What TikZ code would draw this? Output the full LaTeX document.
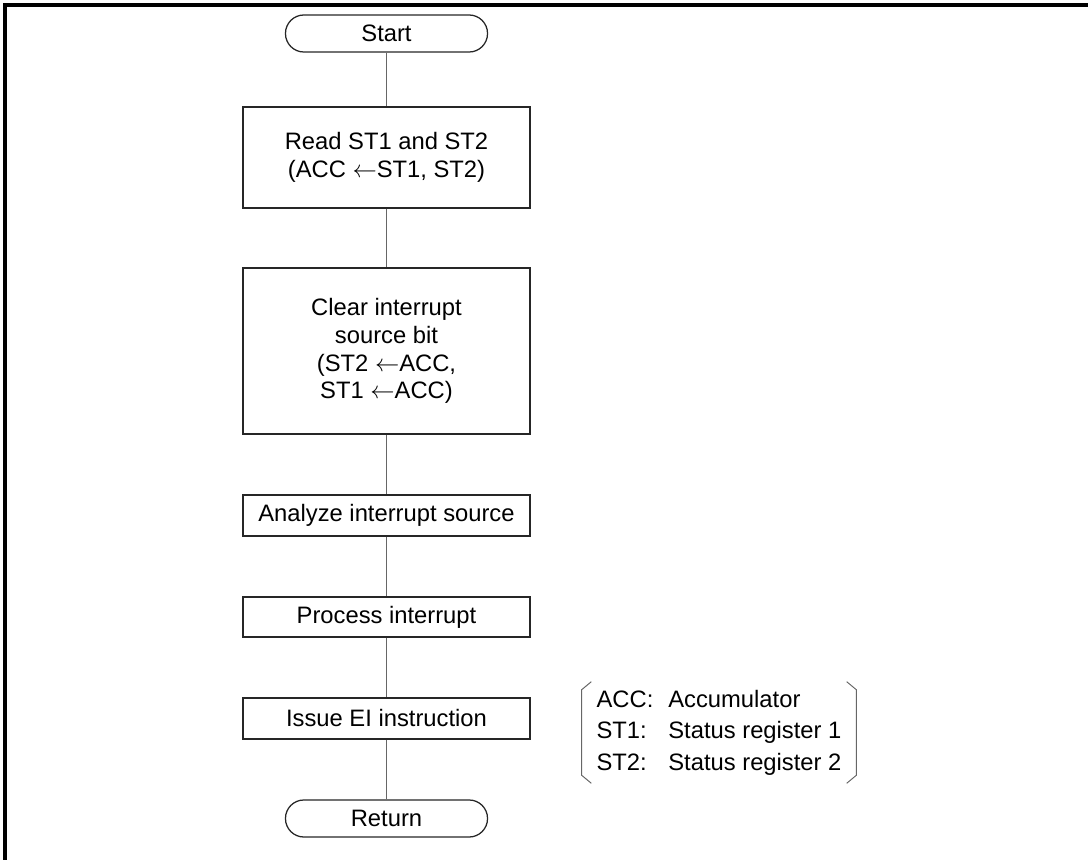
\documentclass[tikz,border=0pt]{standalone}
\usepackage{fontspec}
\setmainfont{Liberation Sans}
\begin{document}
\begin{tikzpicture}[x=0.025cm, y=-0.025cm,
        every node/.style={font=\fontsize{16.9pt}{19.8pt}\selectfont, align=center, inner sep=0pt},
        procbox/.style={draw=black!85, line width=0.9pt, minimum width=7.175cm},
        termbox/.style={draw=black!85, line width=0.9pt, rounded corners=0.46cm, minimum width=5.05cm, minimum height=0.925cm},
        flow/.style={draw=black!60, line width=0.7pt}]
    \def\la{$\leftarrow$}
    \useasboundingbox (0,0) rectangle (1088,860);
    % frame (top and left edge only)
    \draw[line width=2.6pt] (5,860) -- (5,5) -- (1088,5);
    % terminators
    \node[termbox] (start) at (386.5,33.5) {Start};
    \node[termbox] (ret) at (386.5,818.5) {Return};
    % process steps
    \node[procbox, minimum height=2.525cm] (read) at (386.5,157.5) {Read ST1 and ST2\\(ACC \la ST1, ST2)};
    \node[procbox, minimum height=4.15cm] (clear) at (386.5,351) {Clear interrupt\\source bit\\(ST2 \la ACC,\\ST1 \la ACC)};
    \node[procbox, minimum height=1.025cm] (analyze) at (386.5,515.5) {Analyze interrupt source};
    \node[procbox, minimum height=1.0cm] (process) at (386.5,617) {Process interrupt};
    \node[procbox, minimum height=1.025cm] (issue) at (386.5,718.5) {Issue EI instruction};
    % flow lines
    \foreach \a/\b in {start/read, read/clear, clear/analyze, analyze/process, process/issue, issue/ret}
        \draw[flow] (\a) -- (\b);
    % legend
    \node[minimum width=6.85cm, minimum height=2.525cm] (legend) at (719,732.5) {\fontsize{16.9pt}{22.4pt}\selectfont
        \begin{tabular}{@{}l@{\hspace{0.375cm}}l@{}}
            ACC: & Accumulator\\
            ST1: & Status register 1\\
            ST2: & Status register 2
        \end{tabular}};
    \draw[flow] ([xshift=0.24cm]legend.north west) -- ([yshift=-0.2cm]legend.north west)
        -- ([yshift=0.2cm]legend.south west) -- ([xshift=0.24cm]legend.south west);
    \draw[flow] ([xshift=-0.24cm]legend.north east) -- ([yshift=-0.2cm]legend.north east)
        -- ([yshift=0.2cm]legend.south east) -- ([xshift=-0.24cm]legend.south east);
\end{tikzpicture}
\end{document}
